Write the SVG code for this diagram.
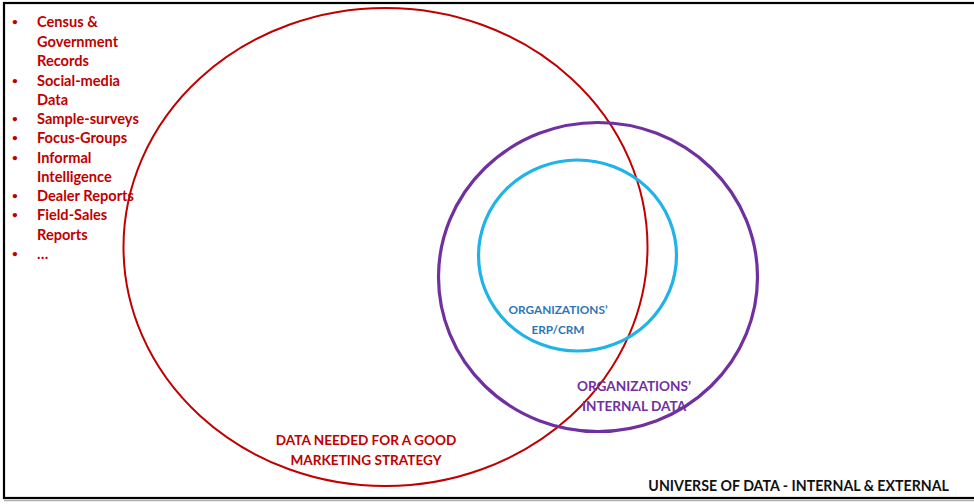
<svg xmlns="http://www.w3.org/2000/svg" width="974" height="504" viewBox="0 0 974 504">
<style>
text{font-family:Lato,"Open Sans","Liberation Sans",sans-serif;font-weight:bold}
.red{fill:#c00000}
.lst{font-size:14.6px}
.bul{font-size:10px}
.ring{fill:none}
</style>
<rect width="974" height="504" fill="#ffffff"/>
<rect x="4" y="3" width="972" height="495" fill="none" stroke="#000" stroke-width="2.2"/>
<line x1="4" y1="500.5" x2="974" y2="500.5" stroke="#b0b0b0" stroke-width="1.5"/>
<g id="list">
<g class="red">
<g class="bul">
<text x="12" y="25">•</text>
<text x="12" y="84">•</text>
<text x="12" y="122">•</text>
<text x="12" y="141">•</text>
<text x="12" y="161">•</text>
<text x="12" y="199">•</text>
<text x="12" y="218">•</text>
<text x="12" y="257">•</text>
</g>
<g class="lst">
<text x="37" y="27">Census &amp;</text>
<text x="37" y="47">Government</text>
<text x="37" y="66">Records</text>
<text x="37" y="86">Social-media</text>
<text x="37" y="105">Data</text>
<text x="37" y="124">Sample-surveys</text>
<text x="37" y="143">Focus-Groups</text>
<text x="37" y="163">Informal</text>
<text x="37" y="182">Intelligence</text>
<text x="37" y="201">Dealer Reports</text>
<text x="37" y="220">Field-Sales</text>
<text x="37" y="240">Reports</text>
<text x="37" y="259">…</text>
</g>
</g>
</g>
<g id="marketing">
<ellipse class="ring" cx="385.5" cy="247" rx="262" ry="239" stroke="#c00000" stroke-width="2"/>
<text class="red" font-size="13.6" text-anchor="middle"><tspan x="366" y="445">DATA NEEDED FOR A GOOD</tspan><tspan x="366" y="465">MARKETING STRATEGY</tspan></text>
</g>
<g id="internal">
<ellipse class="ring" cx="598" cy="277" rx="159.5" ry="154.5" stroke="#7030a0" stroke-width="3.2"/>
<text fill="#7030a0" font-size="13.6" text-anchor="middle"><tspan x="634" y="391">ORGANIZATIONS’</tspan><tspan x="634" y="411">INTERNAL DATA</tspan></text>
</g>
<g id="erp">
<ellipse class="ring" cx="577.5" cy="255.5" rx="99" ry="95.5" stroke="#1fb3ea" stroke-width="3.2"/>
<text fill="#2e75b6" font-size="11.8" text-anchor="middle"><tspan x="558" y="314">ORGANIZATIONS’</tspan><tspan x="558" y="334">ERP/CRM</tspan></text>
</g>
<g id="universe">
<text x="949" y="491" font-size="14.2" fill="#111" text-anchor="end">UNIVERSE OF DATA - INTERNAL &amp; EXTERNAL</text>
</g>
<g id="connectors"/>
</svg>
